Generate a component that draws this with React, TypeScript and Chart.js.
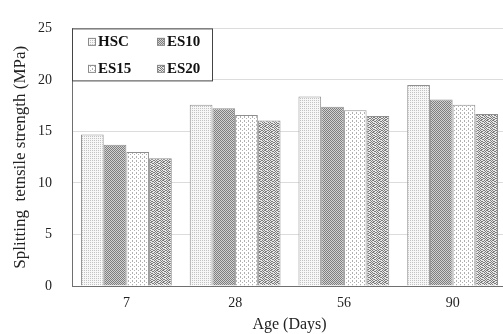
import React, { useEffect, useRef } from 'react';
import { Chart, registerables } from 'chart.js';

Chart.register(...registerables);

const categories = ['7', '28', '56', '90'];
const seriesNames = ['HSC', 'ES10', 'ES15', 'ES20'];
const hscValues = [14.7, 17.6, 18.4, 19.5];
const es10Values = [13.7, 17.25, 17.4, 18.1];
const es15Values = [13.0, 16.6, 17.05, 17.6];
const es20Values = [12.4, 16.05, 16.5, 16.7];
const yTickValues = [0, 5, 10, 15, 20, 25];
const xTitle = 'Age (Days)';
const yTitle = 'Splitting  tetnsile strength (MPa)';

type Tile = { bg: string; fg: string; dots: number[][]; size: number };

const tiles: Tile[] = [
  { bg: '#f7f7f7', fg: '#c2c2c2', size: 2, dots: [[0, 0]] },
  { bg: '#d2d2d2', fg: '#7e7e7e', size: 2, dots: [[0, 0], [1, 1]] },
  { bg: '#ffffff', fg: '#b0b0b0', size: 4, dots: [[0, 0], [2, 2], [0, 1]] },
  {
    bg: '#e8e8e8',
    fg: '#7c7c7c',
    size: 6,
    dots: [[0, 0], [1, 0], [4, 0], [2, 1], [3, 1], [5, 1], [0, 2], [4, 2], [1, 3], [2, 3], [5, 3], [0, 4], [3, 4], [4, 4], [1, 5], [2, 5], [5, 5]],
  },
];

function makePattern(t: Tile): CanvasPattern | string {
  const c = document.createElement('canvas');
  c.width = t.size;
  c.height = t.size;
  const g = c.getContext('2d');
  if (!g) return t.bg;
  g.fillStyle = t.bg;
  g.fillRect(0, 0, t.size, t.size);
  g.fillStyle = t.fg;
  t.dots.forEach(([x, y]) => g.fillRect(x, y, 1, 1));
  const p = g.createPattern(c, 'repeat');
  return p || t.bg;
}

const legendPlugin = {
  id: 'boxLegend',
  afterDatasetsDraw(chart: any) {
    const { ctx, chartArea } = chart;
    const x0 = chartArea.left;
    const y0 = chartArea.top;
    ctx.save();
    ctx.fillStyle = '#ffffff';
    ctx.fillRect(x0 + 0.5, y0 + 0.5, 140, 52);
    ctx.strokeStyle = '#444444';
    ctx.lineWidth = 1;
    ctx.strokeRect(x0 + 0.5, y0 + 0.5, 140, 52);
    const pos = [
      [16, 13],
      [85, 13],
      [16, 40],
      [85, 40],
    ];
    chart.data.datasets.forEach((ds: any, i: number) => {
      const [dx, dy] = pos[i];
      const sx = x0 + dx;
      const sy = y0 + dy;
      ctx.fillStyle = ds.backgroundColor;
      ctx.fillRect(sx, sy - 3.5, 7, 7);
      ctx.strokeStyle = '#8a8a8a';
      ctx.strokeRect(sx + 0.5, sy - 3.5 + 0.5, 7, 7);
      ctx.fillStyle = '#111111';
      ctx.font = 'bold 15px "Liberation Serif"';
      ctx.textBaseline = 'middle';
      ctx.textAlign = 'left';
      ctx.fillText(ds.label, sx + 10, sy + 1);
    });
    ctx.restore();
  },
};

export default function App() {
  const ref = useRef<HTMLCanvasElement | null>(null);

  useEffect(() => {
    if (!ref.current) return;
    const values = [hscValues, es10Values, es15Values, es20Values];
    const chart = new Chart(ref.current, {
      type: 'bar',
      data: {
        labels: categories,
        datasets: seriesNames.map((name, i) => ({
          label: name,
          data: values[i],
          backgroundColor: makePattern(tiles[i]) as any,
          borderColor: '#8f8f8f',
          borderWidth: 1,
          borderSkipped: 'bottom',
          categoryPercentage: 0.835,
          barPercentage: 1.0,
        })),
      },
      options: {
        responsive: false,
        animation: false,
        devicePixelRatio: 1,
        layout: { padding: { top: 14, right: 3, left: 0, bottom: 0 } },
        plugins: {
          legend: { display: false },
          tooltip: { enabled: false },
        },
        scales: {
          x: {
            grid: { display: false, drawTicks: false },
            border: { display: true, color: '#6f6f6f', width: 1 },
            ticks: {
              color: '#222',
              font: { family: 'Liberation Serif', size: 14 },
              padding: 9,
            },
            title: {
              display: true,
              text: xTitle,
              color: '#222',
              font: { family: 'Liberation Serif', size: 16 },
              padding: { top: 0, bottom: 0 },
            },
            afterFit: (s: any) => {
              s.height = 48;
            },
          },
          y: {
            min: 0,
            max: 25,
            afterBuildTicks: (s: any) => {
              s.ticks = yTickValues.map((v) => ({ value: v }));
            },
            grid: { color: '#dcdcdc', drawTicks: false },
            border: { display: true, color: '#6f6f6f', width: 1 },
            ticks: {
              color: '#222',
              font: { family: 'Liberation Serif', size: 14 },
              padding: 20,
            },
            title: {
              display: true,
              text: yTitle,
              color: '#222',
              font: { family: 'Liberation Serif', size: 17 },
              padding: { top: 10, bottom: 0 },
            },
            afterFit: (s: any) => {
              s.width = 72;
            },
          },
        },
      },
      plugins: [legendPlugin],
    });
    return () => chart.destroy();
  }, []);

  return (
    <div style={{ position: 'fixed', left: 0, top: 0, width: 503, height: 334, overflow: 'hidden', background: '#fff' }}>
      <canvas ref={ref} width={510} height={334} style={{ display: 'block', width: 510, height: 334 }} />
    </div>
  );
}
